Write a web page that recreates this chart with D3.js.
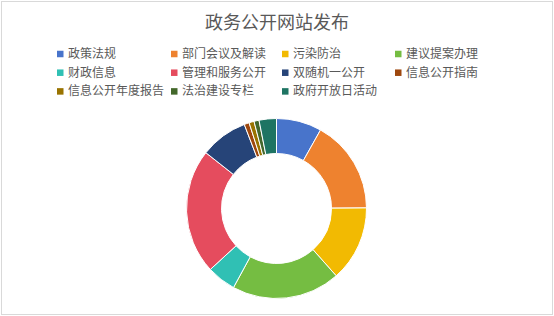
<!DOCTYPE html>
<html>
<head>
<meta charset="utf-8">
<script src="https://cdn.jsdelivr.net/npm/d3@7"></script>
<style>
body { margin: 0; background: #fff; }
svg { font-family: "Noto Sans CJK SC", sans-serif; }
</style>
</head>
<body>
<svg id="chart"></svg>
<script>
var categories = ['政策法规', '部门会议及解读', '污染防治', '建议提案办理',
    '财政信息', '管理和服务公开', '双随机一公开', '信息公开指南',
    '信息公开年度报告', '法治建设专栏', '政府开放日活动']
var values = [8.1, 16.7, 13.5, 19.4, 5.2, 22.4, 8.5, 0.9, 0.9, 0.9, 3.1]
var colors = ['#4874CB', '#EE822F', '#F2BA02', '#75BD42', '#30C0B4', '#E54C5E',
    '#264478', '#9E480E', '#997300', '#43682B', '#1E7463']

var width = 554, height = 316
var cx = 276.5, cy = 208.5, outerR = 90, innerR = 55

var svg = d3.select('#chart').attr('width', width).attr('height', height)

svg.append('rect')
    .attr('x', 1.5).attr('y', 1.5)
    .attr('width', width - 3).attr('height', height - 3)
    .style('fill', '#fff').style('stroke', '#d9d9d9')

svg.append('text')
    .attr('x', width / 2).attr('y', 28.5)
    .attr('text-anchor', 'middle')
    .style('font-size', '18px').style('fill', '#595959')
    .text('政务公开网站发布')

// legend, 4 per row
var colX = [57, 171, 282, 395]
var legend = svg.selectAll('g.legend')
    .data(categories)
    .enter()
    .append('g')
    .attr('class', 'legend')
    .attr('transform', function (d, i) {
        return 'translate(' + colX[i % 4] + ', ' + (54 + Math.floor(i / 4) * 18.7) + ')'
    })
legend.append('rect')
    .attr('x', 0).attr('y', -3.25)
    .attr('width', 6.5).attr('height', 6.5)
    .style('fill', function (d, i) { return colors[i] })
legend.append('text')
    .attr('x', 11).attr('y', 4)
    .style('font-size', '12px').style('fill', '#595959')
    .text(function (d) { return d })

var pie = d3.pie().sort(null)
var arc = d3.arc().innerRadius(innerR).outerRadius(outerR)

svg.append('g')
    .attr('transform', 'translate(' + cx + ', ' + cy + ')')
    .selectAll('path')
    .data(pie(values))
    .enter()
    .append('path')
    .attr('d', arc)
    .style('fill', function (d, i) { return colors[i] })
    .style('stroke', '#fff')
    .style('stroke-width', 1)
</script>
</body>
</html>
